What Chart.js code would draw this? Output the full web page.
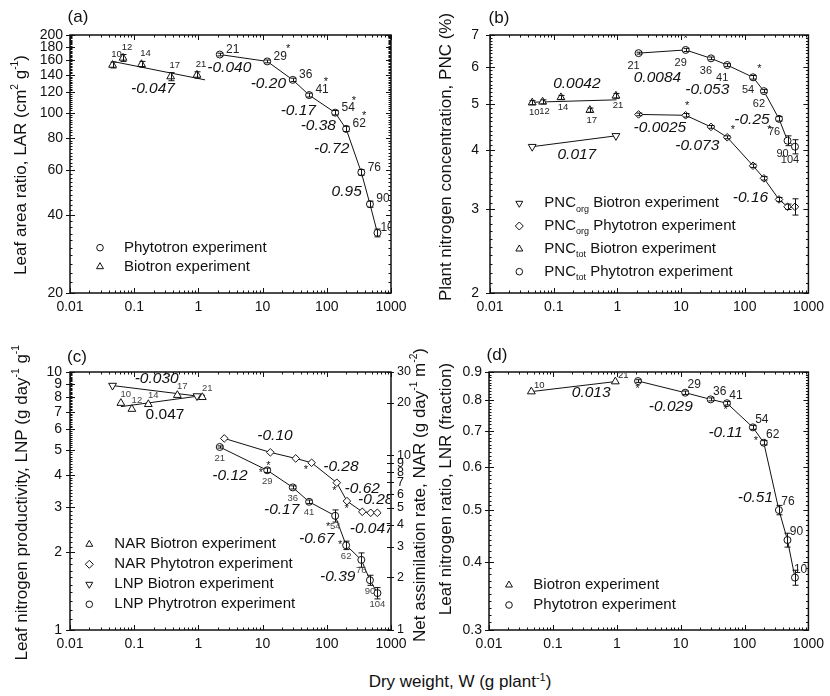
<!DOCTYPE html>
<html>
<head>
<meta charset="utf-8">
<title>Growth analysis</title>
<script src="https://cdn.jsdelivr.net/npm/chart.js@4"></script>
<style>
  html, body { margin: 0; padding: 0; background: #ffffff; }
  #figure { position: relative; width: 830px; height: 696px; overflow: hidden; background: #fff; }
  #figure canvas { position: absolute; }
  #xTitle { position: absolute; left: 300px; width: 320px; top: 671px; text-align: center;
    font: 17px "Liberation Sans", Arial, Helvetica, sans-serif; color: #111; line-height: 22px; white-space: nowrap; }
  #xTitle sup { font-size: 11px; line-height: 0; vertical-align: 6px; }
</style>
</head>
<body>
<div id="figure">
  <canvas id="panelA" width="415" height="345" style="left:0px;top:0px"></canvas>
  <canvas id="panelB" width="415" height="345" style="left:415px;top:0px"></canvas>
  <canvas id="panelC" width="440" height="320" style="left:0px;top:345px"></canvas>
  <canvas id="panelD" width="415" height="320" style="left:415px;top:345px"></canvas>
  <div id="xTitle">Dry weight, W (g plant<sup>-1</sup>)</div>
</div>
<script>
const FONT = '"Liberation Sans", Arial, Helvetica, sans-serif';
const INK = '#111111';
Chart.defaults.font.family = FONT;
Chart.defaults.color = INK;

// Harvest days and mean plant dry weight (g plant-1) at each harvest
const biotronDays = ['10', '12', '14', '17', '21'];
const biotronEndDays = ['10', '21'];
const phytotronDays = ['21', '29', '36', '41', '54', '62', '76', '90', '104'];
const wBiotron = [0.046, 0.067, 0.13, 0.37, 0.95];
const wBiotronEnds = [0.046, 0.95];
const wPhytotron = [2.15, 11.8, 29.5, 53, 135, 200, 345, 470, 615];

// Axis tick values
const wTicks = [0.01, 0.1, 1, 10, 100, 1000];
const larTicks = [20, 40, 60, 80, 100, 120, 140, 160, 180, 200];
const pncTicks = [2, 3, 4, 5, 6, 7];
const lnpTicks = [1, 2, 3, 4, 5, 6, 7, 8, 9, 10];
const narTicks = [1, 2, 3, 4, 5, 6, 7, 8, 9, 10, 20, 30];
const lnrTicks = [0.3, 0.4, 0.5, 0.6, 0.7, 0.8, 0.9];

// (a) leaf area ratio, cm2 g-1
const larBiotron = [153, 163, 154, 138, 140];
const larBiotronErr = [4, 5, 4, 5, 4];
const larBiotronFitW = [0.046, 1.27];
const larBiotronFit = [158, 134];
const larPhytotron = [168, 158, 134, 117, 100, 86.5, 58.7, 44.2, 34.2];
const larPhytotronErr = [2, 2, 2, 2, 2, 2, 1.5, 1.2, 1.2];

// (b) plant nitrogen concentration, %
const pncTotBiotron = [5.04, 5.06, 5.17, 4.86, 5.21];
const pncTotBiotronErr = [0.05, 0.05, 0.05, 0.05, 0.06];
const pncTotBiotronFitW = [0.046, 0.97];
const pncTotBiotronFit = [5.05, 5.11];
const pncOrgBiotron = [4.07, 4.29];
const pncTotPhytotron = [6.41, 6.51, 6.25, 6.05, 5.70, 5.33, 4.66, 4.19, 4.07];
const pncTotPhytotronErr = [0.03, 0.05, 0.04, 0.04, 0.05, 0.04, 0.05, 0.1, 0.14];
const pncOrgPhytotron = [4.76, 4.74, 4.48, 4.26, 3.71, 3.49, 3.15, 3.04, 3.04];
const pncOrgPhytotronErr = [0.03, 0.04, 0.03, 0.03, 0.03, 0.03, 0.03, 0.04, 0.12];

// (c) leaf nitrogen productivity (g day-1 g-1) and net assimilation rate (g day-1 m-2)
const lnpBiotron = [8.86, 8.07];
const narBiotronW = [0.062, 0.092, 0.166, 0.47, 1.15];
const narBiotron = [19.9, 18.4, 19.6, 22.1, 21.5];
const narBiotronFitW = [0.062, 1.27];
const narBiotronFit = [19.0, 22.1];
const narPhytotronW = [2.53, 13.2, 32.8, 58, 143, 206, 357, 483, 612];
const narPhytotron = [12.5, 10.4, 9.6, 9.07, 6.97, 5.47, 4.75, 4.69, 4.69];
const lnpPhytotron = [5.12, 4.16, 3.57, 3.14, 2.77, 2.13, 1.87, 1.56, 1.39];
const lnpPhytotronErr = [0.05, 0.08, 0.05, 0.05, 0.15, 0.08, 0.12, 0.07, 0.07];

// (d) leaf nitrogen ratio, fraction
const lnrBiotron = [0.828, 0.864];
const lnrPhytotron = [0.866, 0.824, 0.801, 0.788, 0.711, 0.666, 0.500, 0.440, 0.375];
const lnrPhytotronErr = [0.005, 0.006, 0.005, 0.006, 0.006, 0.006, 0.01, 0.013, 0.012];

// Slope annotations: [text, W, value]
const slopeLabelsA = [['-0.047', 0.196, 124], ['-0.040', 3.03, 150], ['-0.20', 12.3, 129.6], ['-0.17', 36, 102],
  ['-0.38', 73.8, 88.8], ['-0.72', 119, 72.6], ['0.95', 204, 49.3]];
const slopeLabelsB = [['0.0042', 0.231, 5.52], ['0.017', 0.231, 3.92], ['0.0084', 4.26, 5.70], ['-0.053', 25.8, 5.38],
  ['-0.25', 130, 4.63], ['-0.0025', 4.65, 4.47], ['-0.073', 18, 4.09], ['-0.16', 123, 3.17]];
const slopeLabelsC = [['-0.030', 0.224, 9.43], ['0.047', 0.302, 6.80, 'upright'], ['-0.10', 15.6, 5.65], ['-0.12', 3.11, 3.98],
  ['-0.28', 166, 4.29], ['-0.62', 357, 3.54], ['-0.28', 578, 3.21], ['-0.17', 19.8, 2.915],
  ['-0.047', 501, 2.476], ['-0.67', 69.6, 2.265], ['-0.39', 148, 1.609]];
const slopeLabelsD = [['0.013', 0.398, 0.824], ['-0.029', 7.01, 0.775], ['-0.11', 50.4, 0.696], ['-0.51', 148, 0.527]];

// Significance marks: [W, value]
const starsA = [[24.9, 180], [97, 134], [265, 113], [380, 98.6]];
const starsB = [[11.8, 6.92], [170, 6.0], [12.5, 5.01], [64.9, 4.46], [243, 4.45]];
const starsC = [[12.3, 4.42], [9.44, 4.13], [47.4, 4.25], [131, 3.52], [204, 3.0], [105, 2.55], [161, 2.17]];
const starsD = [[2.12, 0.845], [50.4, 0.773], [151, 0.676]];

function range(from, to, step) {
  const out = [];
  const n = Math.round((to - from) / step);
  for (let i = 0; i <= n; i++) out.push(+(from + i * step).toFixed(4));
  return out;
}
const wMinor = [];
[0.01, 0.1, 1, 10, 100].forEach(d => { for (let k = 2; k <= 9; k++) wMinor.push(+(k * d).toFixed(4)); });

function pts(xs, ys) { return xs.map((x, i) => ({ x: x, y: ys[i] })); }
function fontOf(size, style) { return (style ? style + ' ' : '') + size + 'px ' + FONT; }

function drawRich(ctx, parts, x, y, size, rot, align, style) {
  ctx.save();
  ctx.translate(x, y);
  if (rot) ctx.rotate(rot);
  ctx.textBaseline = 'middle';
  ctx.textAlign = 'left';
  ctx.fillStyle = INK;
  const items = parts.map(p => Array.isArray(p) ? { t: p[0], k: p[1] } : { t: p, k: '' });
  let w = 0;
  items.forEach(it => { ctx.font = fontOf(it.k ? size * 0.6 : size, style); it.w = ctx.measureText(it.t).width; w += it.w; });
  let cx = align === 'left' ? 0 : -w / 2;
  items.forEach(it => {
    ctx.font = fontOf(it.k ? size * 0.6 : size, style);
    const dy = it.k === 'sup' ? -size * 0.36 : (it.k === 'sub' ? size * 0.4 : 0);
    ctx.fillText(it.t, cx, dy);
    cx += it.w;
  });
  ctx.restore();
}

function drawMarker(ctx, shape, x, y, r) {
  ctx.beginPath();
  if (shape === 'circle') {
    ctx.arc(x, y, r, 0, Math.PI * 2);
  } else if (shape === 'triangle' || shape === 'triangleDown') {
    const s = shape === 'triangle' ? 1 : -1;
    ctx.moveTo(x, y - s * r);
    ctx.lineTo(x + r * 0.866, y + s * r * 0.5);
    ctx.lineTo(x - r * 0.866, y + s * r * 0.5);
    ctx.closePath();
  } else {
    ctx.moveTo(x, y - r); ctx.lineTo(x + r, y); ctx.lineTo(x, y + r); ctx.lineTo(x - r, y); ctx.closePath();
  }
  ctx.fillStyle = '#fff'; ctx.fill();
  ctx.lineWidth = 1; ctx.strokeStyle = INK; ctx.stroke();
}

function panelPlugin(spec) {
  return {
    id: 'panelDecor',
    afterDatasetsDraw(chart) {
      const ctx = chart.ctx;
      ctx.save();
      ctx.strokeStyle = INK; ctx.lineWidth = 1;
      chart.data.datasets.forEach((ds, i) => {
        if (!ds.errors) return;
        const meta = chart.getDatasetMeta(i);
        const ys = chart.scales[ds.yAxisID || 'y'];
        meta.data.forEach((el, j) => {
          const e = ds.errors[j];
          if (!e) return;
          const v = ds.data[j].y;
          const top = ys.getPixelForValue(v + e), bot = ys.getPixelForValue(v - e);
          const x = Math.round(el.x) + 0.5;
          ctx.beginPath();
          ctx.moveTo(x, top); ctx.lineTo(x, bot);
          ctx.moveTo(x - 3, top); ctx.lineTo(x + 3, top);
          ctx.moveTo(x - 3, bot); ctx.lineTo(x + 3, bot);
          ctx.stroke();
        });
      });
      ctx.restore();
    },
    afterDraw(chart) {
      const ctx = chart.ctx, a = chart.chartArea;
      const xs = chart.scales.x, ys = chart.scales.y, y2 = chart.scales.y2;
      ctx.save();
      // axis ticks
      ctx.strokeStyle = INK; ctx.lineWidth = 1;
      ctx.beginPath();
      const vx = (p, y0, y1) => { const q = Math.round(p) + 0.5; ctx.moveTo(q, y0); ctx.lineTo(q, y1); };
      const hz = (p, x0, x1) => { const q = Math.round(p) + 0.5; ctx.moveTo(x0, q); ctx.lineTo(x1, q); };
      wMinor.forEach(v => { const p = xs.getPixelForValue(v); vx(p, a.bottom, a.bottom - 2.5); vx(p, a.top, a.top + 2.5); });
      wTicks.forEach(v => { const p = xs.getPixelForValue(v); vx(p, a.bottom, a.bottom - 5); vx(p, a.top, a.top + 5); });
      spec.yMinor.forEach(v => {
        const p = ys.getPixelForValue(v);
        hz(p, a.left, a.left + 2.5);
        if (!y2) hz(p, a.right, a.right - 2.5);
      });
      spec.yMajor.forEach(v => {
        const p = ys.getPixelForValue(v);
        hz(p, a.left - 4, a.left + 5);
        if (!y2) hz(p, a.right, a.right - 5);
      });
      if (y2) narTicks.forEach(v => { const p = y2.getPixelForValue(v); hz(p, a.right - 4, a.right + 3); });
      ctx.stroke();
      // frame
      ctx.lineWidth = 1.5;
      ctx.strokeRect(a.left, a.top, a.right - a.left, a.bottom - a.top);

      // in-plot annotations
      ctx.save();
      ctx.beginPath();
      ctx.rect(a.left + 1, a.top + 1, a.right - a.left - 2, a.bottom - a.top - 2);
      ctx.clip();
      ctx.textAlign = 'center'; ctx.textBaseline = 'middle';
      spec.pointLabels.forEach(pl => {
        const sc = chart.scales[pl.axis || 'y'];
        ctx.font = fontOf(pl.size);
        ctx.fillStyle = pl.color || '#222';
        pl.w.forEach((w, i) => {
          ctx.fillText(pl.text[i], xs.getPixelForValue(w) + pl.dx, sc.getPixelForValue(pl.v[i]) + pl.dy);
        });
      });
      ctx.fillStyle = INK;
      spec.slopes.forEach(s => {
        ctx.font = fontOf(15.5, s[3] === 'upright' ? '' : 'italic');
        ctx.fillText(s[0], xs.getPixelForValue(s[1]), ys.getPixelForValue(s[2]));
      });
      ctx.font = fontOf(11);
      spec.stars.forEach(s => {
        ctx.fillText('*', xs.getPixelForValue(s[0]), ys.getPixelForValue(s[1]) + 2);
      });
      ctx.restore();

      // legend
      const lg = spec.legend;
      lg.items.forEach((it, i) => {
        drawMarker(ctx, it.shape, lg.mx, lg.ys[i], it.shape === 'circle' ? 3.3 : 4);
        drawRich(ctx, it.parts, lg.tx, lg.ys[i], lg.size, 0, 'left');
      });
      // panel letter and axis titles
      spec.texts.forEach(t => drawRich(ctx, t.parts, t.x, t.y, t.size, t.rot || 0, 'center'));
      ctx.restore();
    }
  };
}

function logAxis(min, max, ticks, position, fitKey, fitSize, pad, labelSize) {
  return {
    type: 'logarithmic', min: min, max: max, position: position,
    grid: { display: false, drawTicks: false, tickLength: 0 },
    border: { display: false },
    ticks: { autoSkip: false, maxRotation: 0, minRotation: 0, padding: pad, color: INK,
      font: { size: labelSize || 14 }, callback: v => String(v) },
    afterBuildTicks: s => { s.ticks = ticks.map(v => ({ value: v })); },
    afterFit: s => { s[fitKey] = fitSize; }
  };
}

function markers(data, shape, r, extra) {
  return Object.assign({
    data: data, showLine: false, order: 1,
    pointStyle: shape === 'triangleDown' ? 'triangle' : (shape === 'diamond' ? 'rectRot' : shape),
    rotation: shape === 'triangleDown' ? 180 : 0,
    pointRadius: r, pointHoverRadius: r, pointBorderWidth: 1,
    pointBorderColor: INK, pointBackgroundColor: '#ffffff',
    borderColor: INK, borderWidth: 1
  }, extra || {});
}
function fitLine(data, extra) {
  return Object.assign({ data: data, showLine: true, pointRadius: 0, pointHoverRadius: 0,
    borderColor: INK, borderWidth: 1, order: 2 }, extra || {});
}

function buildChart(id, padding, scales, datasets, spec) {
  return new Chart(document.getElementById(id), {
    type: 'scatter',
    data: { datasets: datasets },
    options: {
      responsive: false, animation: false, events: [],
      layout: { padding: padding },
      plugins: { legend: { display: false }, tooltip: { enabled: false } },
      scales: scales
    },
    plugins: [panelPlugin(spec)]
  });
}

// (a) Leaf area ratio
buildChart('panelA', { left: 0, top: 35, right: 24, bottom: 0 }, {
  x: logAxis(0.01, 1000, wTicks, 'bottom', 'height', 52, 6),
  y: logAxis(20, 200, larTicks, 'left', 'width', 70, 7)
}, [
  markers(pts(wPhytotron, larPhytotron), 'circle', 3.5, { showLine: true, errors: larPhytotronErr }),
  markers(pts(wBiotron, larBiotron), 'triangle', 4.5, { errors: larBiotronErr }),
  fitLine(pts(larBiotronFitW, larBiotronFit))
], {
  yMajor: larTicks, yMinor: range(20, 200, 2),
  pointLabels: [
    { w: wPhytotron, v: larPhytotron, text: phytotronDays, dx: 13, dy: -5, size: 12 },
    { w: wBiotron, v: larBiotron, text: biotronDays, dx: 4, dy: -11, size: 9.5 }
  ],
  slopes: slopeLabelsA, stars: starsA,
  legend: { mx: 100, tx: 124, ys: [247.7, 266.7], size: 15, items: [
    { shape: 'circle', parts: ['Phytotron experiment'] },
    { shape: 'triangle', parts: ['Biotron experiment'] }
  ] },
  texts: [
    { parts: ['(a)'], x: 78, y: 17, size: 17 },
    { parts: ['Leaf area ratio, LAR (cm', ['2', 'sup'], ' g', ['-1', 'sup'], ')'], x: 21, y: 165, size: 17, rot: -Math.PI / 2 }
  ]
});

// (b) Plant nitrogen concentration
buildChart('panelB', { left: 0, top: 35, right: 20, bottom: 0 }, {
  x: logAxis(0.01, 1000, wTicks, 'bottom', 'height', 52, 6),
  y: logAxis(2, 7, pncTicks, 'left', 'width', 75, 11)
}, [
  markers(pts(wPhytotron, pncTotPhytotron), 'circle', 3.5, { showLine: true, errors: pncTotPhytotronErr }),
  markers(pts(wPhytotron, pncOrgPhytotron), 'diamond', 3.8, { showLine: true, errors: pncOrgPhytotronErr }),
  markers(pts(wBiotron, pncTotBiotron), 'triangle', 4.5, { errors: pncTotBiotronErr }),
  fitLine(pts(pncTotBiotronFitW, pncTotBiotronFit)),
  markers(pts(wBiotronEnds, pncOrgBiotron), 'triangleDown', 4.5, { showLine: true })
], {
  yMajor: pncTicks, yMinor: range(2, 7, 0.1),
  pointLabels: [
    { w: wPhytotron, v: pncTotPhytotron, text: phytotronDays, dx: -5, dy: 13, size: 11 },
    { w: wBiotron, v: pncTotBiotron, text: biotronDays, dx: 2, dy: 10, size: 9.5 }
  ],
  slopes: slopeLabelsB, stars: starsB,
  legend: { mx: 104.3, tx: 129.3, ys: [203.3, 226, 249, 271.7], size: 15, items: [
    { shape: 'triangleDown', parts: ['PNC', ['org', 'sub'], ' Biotron experiment'] },
    { shape: 'diamond', parts: ['PNC', ['org', 'sub'], ' Phytotron experiment'] },
    { shape: 'triangle', parts: ['PNC', ['tot', 'sub'], ' Biotron experiment'] },
    { shape: 'circle', parts: ['PNC', ['tot', 'sub'], ' Phytotron experiment'] }
  ] },
  texts: [
    { parts: ['(b)'], x: 84, y: 18, size: 17 },
    { parts: ['Plant nitrogen concentration, PNC (%)'], x: 31, y: 157, size: 17, rot: -Math.PI / 2 }
  ]
});

// (c) Leaf nitrogen productivity and net assimilation rate
buildChart('panelC', { left: 0, top: 27, right: 0, bottom: 0 }, {
  x: logAxis(0.01, 1000, wTicks, 'bottom', 'height', 35, 6),
  y: logAxis(1, 10, lnpTicks, 'left', 'width', 70, 8),
  y2: logAxis(1, 30, narTicks, 'right', 'width', 49, 6, 12.5)
}, [
  markers(pts(wPhytotron, lnpPhytotron), 'circle', 3.5, { showLine: true, errors: lnpPhytotronErr }),
  markers(pts(narPhytotronW, narPhytotron), 'diamond', 3.8, { showLine: true, yAxisID: 'y2' }),
  markers(pts(narBiotronW, narBiotron), 'triangle', 4.5, { yAxisID: 'y2' }),
  fitLine(pts(narBiotronFitW, narBiotronFit), { yAxisID: 'y2' }),
  markers(pts(wBiotronEnds, lnpBiotron), 'triangleDown', 4.5, { showLine: true })
], {
  yMajor: lnpTicks, yMinor: range(1, 10, 0.1),
  pointLabels: [
    { w: wPhytotron, v: lnpPhytotron, text: phytotronDays, dx: 0, dy: 11, size: 9.5, color: '#444' },
    { w: narBiotronW, v: narBiotron, text: biotronDays, dx: 5, dy: -9, size: 9.5, axis: 'y2', color: '#444' }
  ],
  slopes: slopeLabelsC, stars: starsC,
  legend: { mx: 89.3, tx: 114.3, ys: [199.3, 219.3, 239.3, 259.3], size: 15, items: [
    { shape: 'triangle', parts: ['NAR Biotron experiment'] },
    { shape: 'diamond', parts: ['NAR Phytotron experiment'] },
    { shape: 'triangleDown', parts: ['LNP Biotron experiment'] },
    { shape: 'circle', parts: ['LNP Phytrotron experiment'] }
  ] },
  texts: [
    { parts: ['(c)'], x: 77, y: 12, size: 17 },
    { parts: ['Leaf nitrogen productivity, LNP (g day', ['-1', 'sup'], ' g', ['-1', 'sup'], ')'], x: 22, y: 155, size: 17, rot: -Math.PI / 2 },
    { parts: ['Net assimilation rate, NAR (g day', ['-1', 'sup'], ' m', ['-2', 'sup'], ')'], x: 420, y: 150, size: 17, rot: -Math.PI / 2 }
  ]
});

// (d) Leaf nitrogen ratio
buildChart('panelD', { left: 0, top: 27, right: 20, bottom: 0 }, {
  x: logAxis(0.01, 1000, wTicks, 'bottom', 'height', 35, 6),
  y: logAxis(0.3, 0.9, lnrTicks, 'left', 'width', 74, 7)
}, [
  markers(pts(wPhytotron, lnrPhytotron), 'circle', 3.5, { showLine: true, errors: lnrPhytotronErr }),
  markers(pts(wBiotronEnds, lnrBiotron), 'triangle', 4.5, { showLine: true })
], {
  yMajor: lnrTicks, yMinor: range(0.3, 0.9, 0.01),
  pointLabels: [
    { w: wPhytotron.slice(1), v: lnrPhytotron.slice(1), text: phytotronDays.slice(1), dx: 9, dy: -8, size: 12 },
    { w: wBiotronEnds, v: lnrBiotron, text: biotronEndDays, dx: 8, dy: -6, size: 9.5 }
  ],
  slopes: slopeLabelsD, stars: starsD,
  legend: { mx: 94, tx: 118.3, ys: [240, 260], size: 15, items: [
    { shape: 'triangle', parts: ['Biotron experiment'] },
    { shape: 'circle', parts: ['Phytotron experiment'] }
  ] },
  texts: [
    { parts: ['(d)'], x: 82, y: 10, size: 17 },
    { parts: ['Leaf nitrogen ratio, LNR (fraction)'], x: 31, y: 144, size: 17, rot: -Math.PI / 2 }
  ]
});
</script>
</body>
</html>
